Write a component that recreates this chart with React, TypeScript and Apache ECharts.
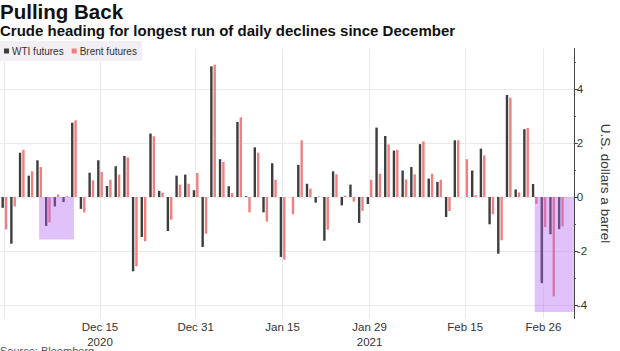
import React, { useEffect, useRef } from "react";
import * as echarts from "echarts";

const dates = [
  "Nov 30", "Dec 1", "Dec 2", "Dec 3", "Dec 4", "Dec 7", "Dec 8", "Dec 9", "Dec 10", "Dec 11",
  "Dec 14", "Dec 15", "Dec 16", "Dec 17", "Dec 18", "Dec 21", "Dec 22", "Dec 23", "Dec 24", "Dec 28",
  "Dec 29", "Dec 30", "Dec 31", "Jan 4", "Jan 5", "Jan 6", "Jan 7", "Jan 8", "Jan 11", "Jan 12",
  "Jan 13", "Jan 14", "Jan 15", "Jan 18", "Jan 19", "Jan 20", "Jan 21", "Jan 22", "Jan 25", "Jan 26",
  "Jan 27", "Jan 28", "Jan 29", "Feb 1", "Feb 2", "Feb 3", "Feb 4", "Feb 5", "Feb 8", "Feb 9",
  "Feb 10", "Feb 11", "Feb 12", "Feb 15", "Feb 16", "Feb 17", "Feb 18", "Feb 19", "Feb 22", "Feb 23",
  "Feb 24", "Feb 25", "Feb 26", "Mar 1", "Mar 2", "Mar 3",
];

const wti = [
  -0.4, -1.73, 1.64, 0.79, 1.36, -1.07, -0.35, -0.19, 2.75, -0.44,
  0.9, 1.36, 0.41, 1.14, 1.52, -2.75, -1.48, 2.35, 0.23, -1.26,
  0.79, 0.83, 0.25, -1.85, 4.84, 1.4, 0.4, 2.78, 0.03, 1.84,
  -0.57, 1.25, -2.22, null, 1.19, 0.49, -0.21, -1.62, 0.95, -0.31,
  0.46, -0.96, -0.26, 2.57, 2.26, 1.72, 0.98, 1.11, 1.96, 0.68,
  0.56, -0.74, 2.1, null, 0.98, 1.79, -1.01, -2.1, 3.78, 0.28,
  2.51, 0.48, -3.19, -1.38, -1.19, null,
];

const brent = [
  -1.2, -0.35, 1.75, 0.95, 1.11, -0.94, 0.09, 0.03, 2.84, -0.57,
  0.62, 0.93, 0.64, 0.83, 1.46, -2.57, -1.64, 2.25, 0.16, -0.84,
  0.46, 0.49, 0.89, -1.36, 4.9, 1.3, 0.15, 2.95, -0.57, 1.64,
  -0.91, 0.64, -2.32, -0.64, 2.1, 0.31, 0.02, -1.21, 0.84, 0.05,
  -0.17, -0.51, 0.64, 0.86, 1.95, 1.75, 0.65, 0.84, 2.06, 0.86,
  0.64, -0.52, 2.1, 1.4, 0.07, 1.54, -0.64, -1.6, 3.68, 0.17,
  2.56, -0.25, -1.11, -3.68, -1.09, null,
];

const labeledDates = ["Dec 15", "Dec 31", "Jan 15", "Jan 29", "Feb 15", "Feb 26"];
const yearLabels: Record<string, string> = { "Dec 15": "2020", "Jan 29": "2021" };
const gridDates = ["Nov 30", ...labeledDates];
const majorTicks = [-4, -2, 0, 2, 4];
const minorTicks = [-3, -1, 1, 3, 5];

const highlightStart = ["Dec 4", "Feb 25"];
const highlightEnd = ["Dec 10", "Mar 3"];
const highlightToEdge = [false, true];
const highlightBottom = [-1.57, -4.26];

const FONT = "Liberation Sans, Arial, sans-serif";

export default function App() {
  const ref = useRef<HTMLDivElement>(null);
  useEffect(() => {
    if (!ref.current) return;
    const chart = echarts.init(ref.current, undefined, { renderer: "svg" });
    const boxData = highlightStart.map((s, i) => [
      dates.indexOf(s),
      dates.indexOf(highlightEnd[i]),
      highlightBottom[i],
      highlightToEdge[i] ? 1 : 0,
    ]);
    chart.setOption({
      animation: false,
      textStyle: { fontFamily: FONT },
      title: [
        {
          text: "Pulling Back",
          left: 0,
          top: 1,
          padding: 0,
          textStyle: { fontSize: 20.5, lineHeight: 20, fontWeight: "bold", color: "#111", fontFamily: FONT },
        },
        {
          text: "Crude heading for longest run of daily declines since December",
          left: 0,
          top: 23,
          padding: 0,
          textStyle: { fontSize: 15, lineHeight: 15, fontWeight: "bold", color: "#111", fontFamily: FONT },
        },
      ],
      legend: {
        left: 0,
        top: 41,
        padding: [5, 5, 5, 4],
        backgroundColor: "#f1eff3",
        itemWidth: 5,
        itemHeight: 5,
        itemGap: 8,
        icon: "rect",
        textStyle: { fontSize: 10, color: "#333", fontFamily: FONT, padding: [0, 0, 0, -2] },
        data: ["WTI futures", "Brent futures"],
      },
      grid: { left: -2.4, right: 43.6, top: 48.5, bottom: 32.5, containLabel: false },
      xAxis: {
        type: "category",
        data: dates,
        boundaryGap: true,
        axisLine: { show: false },
        axisTick: { show: false },
        axisLabel: {
          interval: (i: number, v: string) => labeledDates.includes(v),
          formatter: (v: string) => (yearLabels[v] ? v + "\n" + yearLabels[v] : v),
          fontSize: 11.5,
          lineHeight: 15,
          color: "#333",
          margin: 1,
          fontFamily: FONT,
        },
        splitLine: {
          show: true,
          interval: (i: number, v: string) => gridDates.includes(v),
          alignWithLabel: true,
          lineStyle: { color: "#ebe9f0", width: 1 },
        },
      },
      yAxis: [
        {
          type: "value",
          position: "right",
          min: -4.5,
          max: 5.5,
          axisLine: { show: true, lineStyle: { color: "#444", width: 1 } },
          axisTick: { show: true, length: 4, customValues: majorTicks, lineStyle: { color: "#444" } },
          axisLabel: { customValues: majorTicks, fontSize: 11.5, color: "#333", margin: 3, fontFamily: FONT },
          splitLine: { show: true, lineStyle: { color: "#ebe9f0", width: 1 } },
          name: "U.S. dollars a barrel",
          nameLocation: "middle",
          nameRotate: -90,
          nameGap: 24,
          nameTextStyle: { fontSize: 13.5, color: "#333", fontFamily: FONT },
        },
        {
          type: "value",
          position: "right",
          min: -4.5,
          max: 5.5,
          axisLine: { show: false },
          axisTick: { show: true, length: 2, customValues: minorTicks, lineStyle: { color: "#444" } },
          axisLabel: { show: false },
          splitLine: { show: false },
        },
      ],
      series: [
        {
          name: "WTI futures",
          type: "bar",
          data: wti,
          barWidth: 2.4,
          barGap: "40%",
          itemStyle: { color: "#3d3d3d" },
        },
        {
          name: "Brent futures",
          type: "bar",
          data: brent,
          barWidth: 2.4,
          barGap: "40%",
          itemStyle: { color: "#f27f7f" },
        },
        {
          name: "highlight",
          type: "custom",
          z: 10,
          silent: true,
          encode: { x: [0, 1], y: 2 },
          data: boxData,
          renderItem: (params: any, api: any) => {
            const p0 = api.coord([api.value(0), 0]);
            const p1 = api.coord([api.value(1), api.value(2)]);
            const cs = params.coordSys;
            const right = api.value(3) ? cs.x + cs.width : p1[0];
            return {
              type: "rect",
              shape: { x: p0[0], y: p0[1], width: right - p0[0], height: p1[1] - p0[1] },
              style: { fill: "rgba(180, 100, 240, 0.4)" },
            };
          },
        },
      ],
      graphic: [
        {
          type: "text",
          left: 0,
          top: 345,
          style: { text: "Source: Bloomberg", fontSize: 11, fill: "#555", fontFamily: FONT },
        },
      ],
    });
    return () => chart.dispose();
  }, []);
  return (
    <div
      ref={ref}
      style={{ position: "absolute", left: 0, top: 0, width: 620, height: 351, background: "#fff" }}
    />
  );
}
